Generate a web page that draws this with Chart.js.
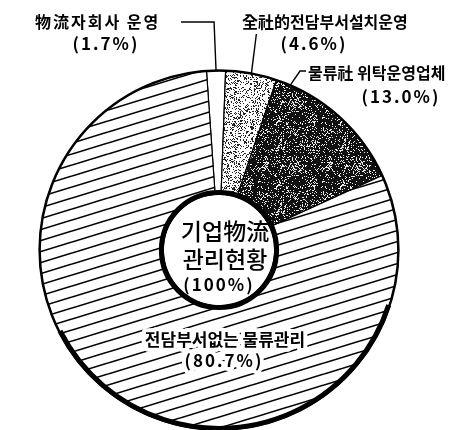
<!DOCTYPE html>
<html>
<head>
<meta charset="utf-8">
<script src="https://cdn.jsdelivr.net/npm/chart.js@4.4.1/dist/chart.umd.min.js"></script>
<style>
  html, body { margin: 0; padding: 0; background: #fff; }
  #wrap { position: relative; width: 467px; height: 430px; }
</style>
</head>
<body>
<div id="wrap"><canvas id="pie"></canvas></div>
<script>
// 기업物流 관리현황 - data
const categories = ['物流자회사 운영', '全社的전담부서설치운영', '물류社 위탁운영업체', '전담부서없는 물류관리'];
const shares = [1.7, 4.6, 13.0, 80.7];
const shareLabels = ['(1.7%)', '(4.6%)', '(13.0%)', '(80.7%)'];
const centerTitle = ['기업物流', '관리현황', '(100%)'];

const KR = "'Noto Sans CJK KR', 'Noto Sans', sans-serif";

// fill textures (scanned print look)
function makeTile(w, h, draw) {
  const c = document.createElement('canvas');
  c.width = w; c.height = h;
  const g = c.getContext('2d');
  draw(g, w, h);
  return document.createElement('canvas').getContext('2d').createPattern(c, 'repeat');
}

// tiny fixed-seed generator, only for the grain of the screen textures
let seed = 12345;
function grain() {
  seed = (seed * 1103515245 + 12345) & 0x7fffffff;
  return seed / 0x7fffffff;
}

const hatch = makeTile(36, 11, (g, w, h) => {
  g.fillStyle = '#fff';
  g.fillRect(0, 0, w, h);
  g.strokeStyle = '#000';
  g.lineWidth = 1.6;
  for (let k = -1; k <= 1; k++) {
    g.beginPath();
    g.moveTo(0, h + k * h);
    g.lineTo(w, k * h);
    g.stroke();
  }
});

const lightDots = makeTile(64, 64, (g, w, h) => {
  g.fillStyle = '#fff';
  g.fillRect(0, 0, w, h);
  g.fillStyle = '#222';
  for (let y = 0; y < h; y++) {
    for (let x = 0; x < w; x++) {
      if (grain() < 0.26) g.fillRect(x, y, 1, 1);
    }
  }
});

const darkDots = makeTile(64, 64, (g, w, h) => {
  g.fillStyle = '#111';
  g.fillRect(0, 0, w, h);
  g.fillStyle = '#e8e8e8';
  for (let y = 0; y < h; y++) {
    for (let x = 0; x < w; x++) {
      // lighter blotches in places
      const blotch = 0.14 + 0.22 * Math.max(0, Math.sin(x * 0.2) * Math.cos(y * 0.17));
      if (grain() < blotch) g.fillRect(x, y, 1, 1);
    }
  }
});

// point on outer rim for slice i, at fraction t of its angle span
function rimPoint(arc, t) {
  const a = arc.startAngle + (arc.endAngle - arc.startAngle) * t;
  return { x: arc.x + Math.cos(a) * arc.outerRadius, y: arc.y + Math.sin(a) * arc.outerRadius };
}

const labelsPlugin = {
  id: 'labelsPlugin',
  afterDatasetsDraw(chart) {
    const ctx = chart.ctx;
    const arcs = chart.getDatasetMeta(0).data;
    const a0 = arcs[0];
    ctx.save();

    // rings
    ctx.strokeStyle = '#000';
    ctx.lineWidth = 2.5;
    ctx.beginPath();
    ctx.arc(a0.x, a0.y, a0.outerRadius, 0, Math.PI * 2);
    ctx.stroke();
    ctx.lineWidth = 5;
    ctx.beginPath();
    ctx.arc(a0.x, a0.y, a0.outerRadius - 1, Math.PI * 0.1, Math.PI * 0.85);
    ctx.stroke();
    ctx.lineWidth = 5;
    ctx.beginPath();
    ctx.arc(a0.x, a0.y, a0.innerRadius + 2, 0, Math.PI * 2);
    ctx.stroke();

    // leader lines
    ctx.lineWidth = 1.4;
    const p1 = rimPoint(arcs[0], 0.5);
    ctx.beginPath();
    ctx.moveTo(181, 22);
    ctx.lineTo(p1.x - 2, 22);
    ctx.lineTo(p1.x, p1.y);
    ctx.stroke();
    const p2 = rimPoint(arcs[1], 0.5);
    ctx.beginPath();
    ctx.moveTo(p2.x + 5, 34);
    ctx.lineTo(p2.x, p2.y);
    ctx.stroke();
    const p3 = rimPoint(arcs[2], 0.1);
    ctx.beginPath();
    ctx.moveTo(306, 71);
    ctx.lineTo(300, 71);
    ctx.lineTo(p3.x, p3.y);
    ctx.stroke();

    // text
    ctx.fillStyle = '#000';
    ctx.textBaseline = 'middle';
    ctx.textAlign = 'left';
    ctx.font = 'bold 16px ' + KR;
    ctx.letterSpacing = '2px';
    ctx.fillText(categories[0], 35, 22);
    ctx.letterSpacing = '0px';
    ctx.fillText(categories[1], 242, 22);
    ctx.fillText(categories[2], 308, 73);

    ctx.textAlign = 'center';
    ctx.font = 'bold 17px ' + KR;
    ctx.letterSpacing = '2px';
    ctx.fillText(shareLabels[0], 106, 44);
    ctx.fillText(shareLabels[1], 314, 44);
    ctx.fillText(shareLabels[2], 401, 97);

    // label inside the big slice, with white halo
    ctx.font = 'bold 17px ' + KR;
    ctx.letterSpacing = '0px';
    ctx.strokeStyle = '#fff';
    ctx.lineWidth = 8;
    ctx.lineJoin = 'round';
    ctx.strokeText(categories[3], 225, 340);
    ctx.fillText(categories[3], 225, 340);
    ctx.letterSpacing = '2px';
    ctx.strokeText(shareLabels[3], 224, 361);
    ctx.fillText(shareLabels[3], 224, 361);

    // centre
    ctx.letterSpacing = '0px';
    ctx.font = '500 23px ' + KR;
    ctx.fillText(centerTitle[0], 225, 231);
    ctx.fillText(centerTitle[1], 225, 259);
    ctx.font = 'bold 17px ' + KR;
    ctx.letterSpacing = '2px';
    ctx.fillText(centerTitle[2], 219, 285);

    ctx.restore();
  }
};

new Chart(document.getElementById('pie'), {
  type: 'doughnut',
  data: {
    labels: categories,
    datasets: [{
      data: shares,
      backgroundColor: ['#ffffff', lightDots, darkDots, hatch],
      borderColor: '#000',
      borderWidth: 1.2,
      hoverOffset: 0,
      offset: 0
    }]
  },
  options: {
    responsive: true,
    maintainAspectRatio: false,
    animation: false,
    rotation: -4,
    cutout: '31%',
    layout: { padding: { left: 39, right: 68, top: 70, bottom: 0 } },
    plugins: {
      legend: { display: false },
      tooltip: { enabled: false }
    }
  },
  plugins: [labelsPlugin]
});
</script>
</body>
</html>
